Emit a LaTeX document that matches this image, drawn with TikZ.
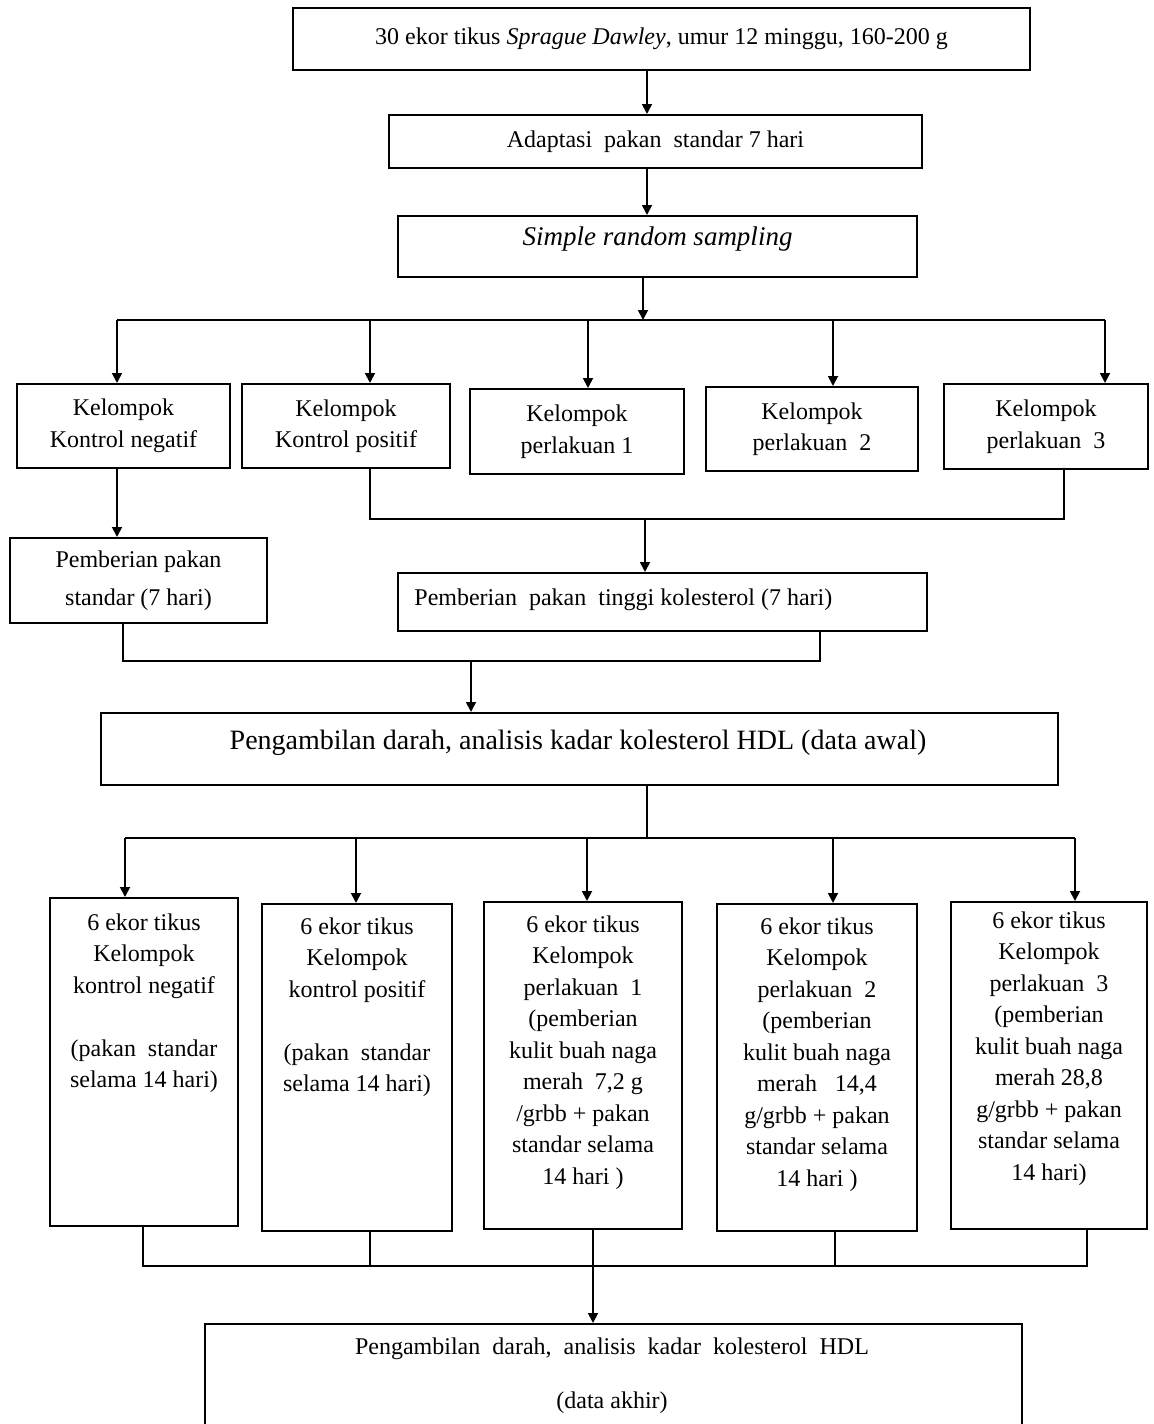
\documentclass[tikz,border=0pt]{standalone}
\usepackage{fontspec}
\setmainfont{Liberation Serif}
\usetikzlibrary{arrows.meta,calc}
\begin{document}
\begin{tikzpicture}[x=0.5pt,y=-0.5pt,
  box/.style={draw,line width=1pt,inner sep=0pt},
  txt/.style={font=\fontsize{12}{15.75}\selectfont,align=center,inner sep=0pt},
  ln/.style={line width=0.9pt},
  arr/.style={line width=0.9pt,-{Triangle[length=5pt,width=5pt]}}]
\useasboundingbox (0,0) rectangle (1153,1424);
\clip (0,0) rectangle (1153,1424);
% top chain
\node[box,minimum width=368.5pt,minimum height=31pt,txt] (top) at (661.5,39)
  {30 ekor tikus \textit{Sprague Dawley}, umur 12 minggu, 160-200 g};
\node[box,minimum width=266.5pt,minimum height=26.5pt,txt] (adapt) at (655.5,141.5)
  {Adaptasi\ \ pakan\ \ standar 7 hari};
\node[box,minimum width=259.5pt,minimum height=30.5pt] (samp) at (657.5,246.5) {};
\node[txt,font=\fontsize{13.5}{16}\selectfont\itshape] (samptxt) at (657.5,239) {Simple random sampling};
% groups
\node[box,minimum width=106.5pt,minimum height=42pt,txt] (g1) at (123.5,426) {Kelompok\\Kontrol negatif};
\node[box,minimum width=104pt,minimum height=42pt,txt] (g2) at (346,426) {Kelompok\\Kontrol positif};
\node[box,minimum width=107pt,minimum height=42.5pt,txt] (g3) at (577,431.5) {Kelompok\\perlakuan 1};
\node[box,minimum width=106pt,minimum height=42pt,txt] (g4) at (812,429) {Kelompok\\perlakuan\ \ 2};
\node[box,minimum width=102pt,minimum height=42.5pt,txt] (g5) at (1046,426.5) {Kelompok\\perlakuan\ \ 3};
% feeding
\node[box,minimum width=128.5pt,minimum height=42.5pt,txt,font=\fontsize{12}{19}\selectfont] (ps) at (138.5,580.5) {Pemberian pakan\\standar (7 hari)};
\node[box,minimum width=264.5pt,minimum height=29pt] (pt) at (662.5,602) {};
\node[txt,anchor=west] (pttxt) at (414,600) {Pemberian\ \ pakan\ \ tinggi kolesterol (7 hari)};
% data awal
\node[box,minimum width=478.5pt,minimum height=36pt] (da) at (579.5,749) {};
\node[txt,font=\fontsize{14}{17}\selectfont] (datxt) at (578,743) {Pengambilan darah, analisis kadar kolesterol HDL (data awal)};
% bottom boxes
\node[box,minimum width=94pt,minimum height=164pt] (b1) at (144,1062) {};
\node[box,minimum width=95pt,minimum height=163.5pt] (b2) at (357,1067.5) {};
\node[box,minimum width=99pt,minimum height=163.5pt] (b3) at (583,1065.5) {};
\node[box,minimum width=100pt,minimum height=163.5pt] (b4) at (817,1067.5) {};
\node[box,minimum width=98pt,minimum height=163.5pt] (b5) at (1049,1065.5) {};
\node[txt,anchor=north] (b1t) at (144,913) {6 ekor tikus\\Kelompok\\kontrol negatif\\[15.75pt](pakan\ \ standar\\selama 14 hari)};
\node[txt,anchor=north] (b2t) at (357,917) {6 ekor tikus\\Kelompok\\kontrol positif\\[15.75pt](pakan\ \ standar\\selama 14 hari)};
\node[txt,anchor=north] (b3t) at (583,915) {6 ekor tikus\\Kelompok\\perlakuan\ \ 1\\(pemberian\\kulit buah naga\\merah\ \ 7,2 g\\/grbb + pakan\\standar selama\\14 hari )};
\node[txt,anchor=north] (b4t) at (817,917) {6 ekor tikus\\Kelompok\\perlakuan\ \ 2\\(pemberian\\kulit buah naga\\merah\ \ \ 14,4\\g/grbb + pakan\\standar selama\\14 hari )};
\node[txt,anchor=north] (b5t) at (1049,911) {6 ekor tikus\\Kelompok\\perlakuan\ \ 3\\(pemberian\\kulit buah naga\\merah 28,8\\g/grbb + pakan\\standar selama\\14 hari)};
% final
\node[box,minimum width=408.5pt,minimum height=58pt] (fin) at (613.5,1382) {};
\node[txt] (fin1) at (612,1349) {Pengambilan\ \ darah,\ \ analisis\ \ kadar\ \ kolesterol\ \ HDL};
\node[txt] (fin2) at (612,1403) {(data akhir)};
% helper coordinates
\coordinate (x647) at (647,0);
\coordinate (x643) at (643,0);
\coordinate (busA) at (117,320);
\coordinate (busB) at (1105,320);
\coordinate (a1) at (117,320);
\coordinate (a2) at (370,320);
\coordinate (a3) at (588,320);
\coordinate (a4) at (833,320);
\coordinate (a5) at (1105,320);
\coordinate (j1) at (370,519);
\coordinate (j2) at (1064,519);
\coordinate (j3) at (645,519);
\coordinate (k1) at (123,661);
\coordinate (k2) at (820,661);
\coordinate (k3) at (471,661);
\coordinate (busC) at (125,838);
\coordinate (busD) at (1075,838);
\coordinate (c1) at (125,838);
\coordinate (c2) at (356,838);
\coordinate (c3) at (587,838);
\coordinate (c4) at (833,838);
\coordinate (c5) at (1075,838);
\coordinate (m1) at (143,1266);
\coordinate (m2) at (370,1266);
\coordinate (m4) at (835,1266);
\coordinate (m5) at (1087,1266);
\coordinate (x593) at (593,0);
% connectors
\draw[arr] (top.south -| x647) -- (adapt.north -| x647);
\draw[arr] (adapt.south -| x647) -- (samp.north -| x647);
\draw[arr] (samp.south -| x643) -- (busA -| x643);
\draw[ln] (busA) -- (busB);
\draw[arr] (a1) -- (a1 |- g1.north);
\draw[arr] (a2) -- (a2 |- g2.north);
\draw[arr] (a3) -- (a3 |- g3.north);
\draw[arr] (a4) -- (a4 |- g4.north);
\draw[arr] (a5) -- (a5 |- g5.north);
\draw[arr] (g1.south -| a1) -- (ps.north -| a1);
\draw[ln] (g2.south -| j1) -- (j1) -- (j2) -- (g5.south -| j2);
\draw[arr] (j3) -- (j3 |- pt.north);
\draw[ln] (ps.south -| k1) -- (k1) -- (k2) -- (pt.south -| k2);
\draw[arr] (k3) -- (k3 |- da.north);
\draw[ln] (da.south -| x647) -- (busC -| x647);
\draw[ln] (busC) -- (busD);
\draw[arr] (c1) -- (c1 |- b1.north);
\draw[arr] (c2) -- (c2 |- b2.north);
\draw[arr] (c3) -- (c3 |- b3.north);
\draw[arr] (c4) -- (c4 |- b4.north);
\draw[arr] (c5) -- (c5 |- b5.north);
\draw[ln] (b1.south -| m1) -- (m1) -- (m5) -- (b5.south -| m5);
\draw[ln] (b2.south -| m2) -- (m2);
\draw[ln] (b4.south -| m4) -- (m4);
\draw[arr] (b3.south -| x593) -- (fin.north -| x593);
\end{tikzpicture}
\end{document}
